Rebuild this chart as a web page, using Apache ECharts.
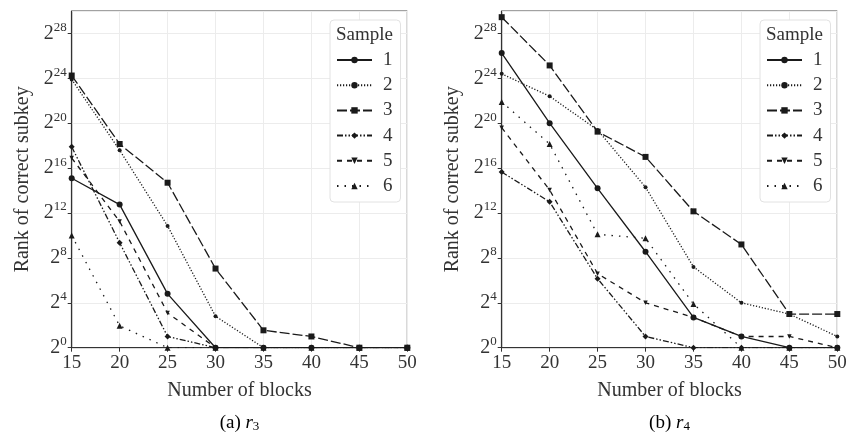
<!DOCTYPE html>
<html>
<head>
<meta charset="UTF-8">
<title>Rank of correct subkey</title>
<script src="https://cdn.jsdelivr.net/npm/echarts@6/dist/echarts.min.js"></script>
<style>
	html, body { margin: 0; padding: 0; background: #fff; }
</style>
</head>
<body>
<div id="main" style="width: 861px;height:437px;"></div>
<script type="text/javascript">
	// 横轴：区块数
	var blocks = [15, 20, 25, 30, 35, 40, 45, 50];
	var sampleNames = ['1', '2', '3', '4', '5', '6'];
	var yTicks = [0, 4, 8, 12, 16, 20, 24, 28];

	// (a) r3，数值为 log2(rank)
	var r3s1 = [15.1, 12.75, 4.8, 0, 0, 0, 0, 0];
	var r3s2 = [23.9, 17.6, 10.85, 2.8, 0, 0, 0, 0];
	var r3s3 = [24.25, 18.15, 14.7, 7.05, 1.55, 1.0, 0, 0];
	var r3s4 = [17.9, 9.35, 1.0, 0, 0, 0, 0, 0];
	var r3s5 = [16.9, 11.25, 3.1, 0, 0, 0, 0, 0];
	var r3s6 = [10.0, 1.95, 0, 0, 0, 0, 0, 0];

	// (b) r4
	var r4s1 = [26.25, 20.0, 14.2, 8.55, 2.7, 1.0, 0, 0];
	var r4s2 = [24.4, 22.4, 19.4, 14.3, 7.2, 4.0, 3.0, 1.0];
	var r4s3 = [29.45, 25.15, 19.25, 17.0, 12.15, 9.2, 3.0, 3.0];
	var r4s4 = [15.65, 13.0, 6.15, 1.0, 0, 0, 0, 0];
	var r4s5 = [19.6, 14.05, 6.6, 4.0, 2.7, 1.0, 1.0, 0];
	var r4s6 = [21.9, 18.15, 10.1, 9.75, 3.9, 0, 0, 0];

	var FONT = 'Liberation Serif';
	var INK = '#1a1a1a';

	// 每个样本的线型和标记
	var styles = [
		{ dash: 'solid', symbol: 'circle', size: 6 },
		{ dash: [1.2, 1.8], symbol: 'circle', size: 4 },
		{ dash: [10, 3], symbol: 'rect', size: 6 },
		{ dash: [6, 2, 1.5, 2, 1.5, 2], symbol: 'diamond', size: 6 },
		{ dash: [5, 5], symbol: 'triangle', size: 4.5, rotate: 180 },
		{ dash: [1.5, 6], symbol: 'triangle', size: 6 }
	];

	function pairs(vals) {
		var out = [];
		for (var i = 0; i < blocks.length; i++) {
			out.push([blocks[i], vals[i]]);
		}
		return out;
	}

	function makeSeries(list, idx) {
		var res = [];
		for (var i = 0; i < list.length; i++) {
			var st = styles[i];
			res.push({
				name: sampleNames[i],
				type: 'line',
				xAxisIndex: idx,
				yAxisIndex: idx,
				data: pairs(list[i]),
				symbol: st.symbol,
				symbolSize: st.size,
				symbolRotate: st.rotate || 0,
				showAllSymbol: true,
				animation: false,
				lineStyle: { color: INK, width: 1.3, type: st.dash },
				itemStyle: { color: INK }
			});
		}
		return res;
	}

	function xAxis(idx) {
		return {
			type: 'value', gridIndex: idx, min: 15, max: 50, interval: 5,
			name: 'Number of blocks', nameLocation: 'middle', nameGap: 33,
			nameTextStyle: { fontFamily: FONT, fontSize: 20, color: '#333' },
			axisLine: { lineStyle: { color: '#333', width: 1.2 } },
			axisTick: { show: true, length: 4, lineStyle: { color: '#333' } },
			axisLabel: { fontFamily: FONT, fontSize: 19, color: '#333', margin: 6 },
			splitLine: { show: true, lineStyle: { color: '#ececec' } }
		};
	}

	function yAxis(idx) {
		return {
			type: 'value', gridIndex: idx, min: 0, max: 30, interval: 4,
			name: 'Rank of correct subkey', nameLocation: 'middle', nameGap: 39,
			nameTextStyle: { fontFamily: FONT, fontSize: 20, color: '#333' },
			axisLine: { show: true, lineStyle: { color: '#333', width: 1.2 } },
			axisTick: { show: true, length: 4, lineStyle: { color: '#333' } },
			axisLabel: {
				showMaxLabel: false, margin: 5,
				formatter: function (v) { return '{b|2}{s|' + v + '}'; },
				rich: {
					b: { fontFamily: FONT, fontSize: 20, color: '#333' },
					s: { fontFamily: FONT, fontSize: 13, color: '#333', verticalAlign: 'top', padding: [0, 0, 12, 0] }
				}
			},
			splitLine: { show: true, lineStyle: { color: '#ececec' } }
		};
	}

	function legend(left) {
		return {
			data: sampleNames, orient: 'vertical', left: left, top: 20,
			padding: [30.5, 8, 6.5, 6], itemWidth: 35, itemHeight: 8, itemGap: 6.2,
			backgroundColor: '#fff', borderColor: '#e2e2e2', borderWidth: 1, borderRadius: 4,
			textStyle: { fontFamily: FONT, fontSize: 19, color: '#333', padding: [0, 0, 0, 6] },
			selectedMode: false
		};
	}

	function caption(cx, tag, sub) {
		return {
			type: 'text', x: cx, y: 423, style: {
				text: '{n|(' + tag + ') }{i|r}{d|' + sub + '}',
				align: 'center', verticalAlign: 'middle',
				rich: {
					n: { fontFamily: FONT, fontSize: 19, color: '#333' },
					i: { fontFamily: FONT, fontSize: 19, fontStyle: 'italic', color: '#333' },
					d: { fontFamily: FONT, fontSize: 13, color: '#333', verticalAlign: 'bottom', padding: [8, 0, 0, 0] }
				}
			}
		};
	}

	var myChart = echarts.init(document.getElementById('main'));
	var option = {
		backgroundColor: '#fff',
		animation: false,
		grid: [
			{ left: 71.7, top: 11, width: 335.6, height: 336.7, show: true, borderColor: '#444', borderWidth: 1 },
			{ left: 501.7, top: 11, width: 335.6, height: 336.7, show: true, borderColor: '#444', borderWidth: 1 }
		],
		xAxis: [xAxis(0), xAxis(1)],
		yAxis: [yAxis(0), yAxis(1)],
		legend: [legend(330), legend(760)],
		graphic: [
			{ type: 'text', x: 364.5, y: 35, z: 100, style: { text: 'Sample', align: 'center', verticalAlign: 'middle', fontFamily: FONT, fontSize: 19, fill: '#333' } },
			{ type: 'text', x: 794.5, y: 35, z: 100, style: { text: 'Sample', align: 'center', verticalAlign: 'middle', fontFamily: FONT, fontSize: 19, fill: '#333' } },
			caption(239.5, 'a', '3'),
			caption(669.5, 'b', '4')
		],
		series: makeSeries([r3s1, r3s2, r3s3, r3s4, r3s5, r3s6], 0)
			.concat(makeSeries([r4s1, r4s2, r4s3, r4s4, r4s5, r4s6], 1))
	};
	myChart.setOption(option);
</script>
</body>
</html>
